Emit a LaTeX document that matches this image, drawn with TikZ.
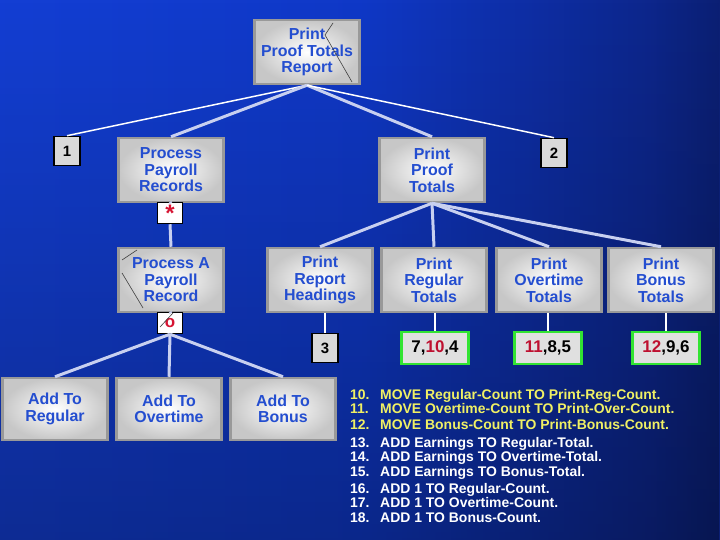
\documentclass[tikz,border=0pt]{standalone}
\usepackage{fontspec}
\setmainfont{Liberation Sans}
\usetikzlibrary{fadings}

\definecolor{boxblue}{RGB}{36,78,208}
\definecolor{linklav}{RGB}{200,208,240}
\definecolor{iterred}{RGB}{214,20,50}
\definecolor{countred}{RGB}{190,16,48}
\definecolor{countgreen}{RGB}{50,228,50}
\definecolor{codeyellow}{RGB}{240,240,100}

\pgfdeclarehorizontalshading{slidebg}{100bp}{rgb(0bp)=(0.09,0.27,0.88);
  rgb(50bp)=(0.06,0.22,0.78); rgb(70bp)=(0.05,0.15,0.55);
  rgb(88bp)=(0.02,0.05,0.2); rgb(100bp)=(0,0,0)}

\tikzstyle{module} = [draw=black!40, line width=2.5pt, inner color=white,
    outer color=black!22, rectangle, minimum height=64bp, minimum width=105bp,
    align=center, text=boxblue, inner sep=1pt,
    font=\bfseries\fontsize{16}{16.5}\selectfont]
\tikzstyle{tag} = [draw=black, line width=1.6pt, fill=black!15, inner sep=0pt,
    minimum width=26bp, minimum height=29bp,
    font=\bfseries\fontsize{15}{16}\selectfont]
\tikzstyle{iterbox} = [draw=black, line width=1.5pt, fill=white, inner sep=0pt,
    minimum width=25bp, minimum height=21bp, text=iterred,
    font=\bfseries\fontsize{17}{17}\selectfont]
\tikzstyle{countbox} = [draw=countgreen, line width=2.5pt, fill=black!12,
    inner sep=0pt, minimum width=67bp, minimum height=32bp,
    font=\bfseries\fontsize{17}{18}\selectfont]
\tikzstyle{thicklink} = [linklav, line width=3pt]
\tikzstyle{thinlink} = [white, line width=1.5pt]
\tikzstyle{scribble} = [black!75, line width=0.6pt]
\tikzstyle{codeline} = [anchor=base west, inner sep=0pt,
    font=\bfseries\fontsize{14}{14}\selectfont]

\newcommand{\hot}[1]{\textcolor{countred}{#1}}

\begin{document}
\begin{tikzpicture}[x=1bp, y=-1bp]
\shade[shading=slidebg] (0,0) rectangle (720,540);
\fill[black, opacity=0.3, path fading=north] (0,0) rectangle (720,540);
\useasboundingbox (0,0) rectangle (720,540);

% top levels
\node[module] (report) at (307,52) {Print\\Proof Totals\\Report};
\node[tag] (one) at (67,151) {1};
\node[module] (ppr) at (171,170) {Process\\Payroll\\Records};
\node[module] (ppt) at (432,170) {Print\\Proof\\Totals};
\node[tag] (two) at (554,153) {2};
\node[iterbox] (star) at (170,213) {\fontsize{24}{24}\selectfont\raisebox{-9bp}{*}};

% second level
\node[module] (papr) at (171,280) {Process A\\Payroll\\Record};
\node[module] (prh) at (320,280) {Print\\Report\\Headings};
\node[module] (prt) at (434,280) {Print\\Regular\\Totals};
\node[module] (pot) at (549,280) {Print\\Overtime\\Totals};
\node[module] (pbt) at (661,280) {Print\\Bonus\\Totals};
\node[iterbox] (sel) at (170,323) {o};
\node[tag] (three) at (325,348) {3};
\node[countbox] (regcnt) at (435,348) {7,\hot{10},4};
\node[countbox] (overcnt) at (548,348) {\hot{11},8,5};
\node[countbox] (bonuscnt) at (666,348) {\hot{12},9,6};

% bottom
\node[module, minimum height=62bp] (addreg) at (55,409) {Add To\\Regular};
\node[module, minimum height=62bp] (addover) at (169,409) {Add To\\Overtime};
\node[module, minimum height=62bp] (addbonus) at (283,409) {Add To\\Bonus};

\draw[thinlink] (report.south) -- (one.north);
\draw[thicklink] (report.south) -- (ppr.north);
\draw[thicklink] (report.south) -- (ppt.north);
\draw[thinlink] (report.south) -- (two.north);
\draw[thicklink] (ppr.south) -- (star.north);
\draw[thicklink] (star.south) -- (papr.north);
\draw[thicklink] (ppt.south) -- (prh.north);
\draw[thicklink] (ppt.south) -- (prt.north);
\draw[thicklink] (ppt.south) -- (pot.north);
\draw[thicklink] (ppt.south) -- (pbt.north);
\draw[thicklink] (papr.south) -- (sel.north);
\draw[thicklink] (sel.south) -- (addreg.north);
\draw[thicklink] (sel.south) -- (addover.north);
\draw[thicklink] (sel.south) -- (addbonus.north);
\draw[thinlink] (three.north) -- (three.north |- prh.south);
\draw[thinlink] (regcnt.north) -- (regcnt.north |- prt.south);
\draw[thinlink] (overcnt.north) -- (overcnt.north |- pot.south);
\draw[thinlink] (bonuscnt.north) -- (bonuscnt.north |- pbt.south);

% pen marks
\draw[scribble] (333,23) -- (325,35) -- (352,82);
\draw[scribble] (137,250) -- (122,260);
\draw[scribble] (122,273) -- (143,308);
\draw[scribble] (160,327) -- (173,313);

% code
\node[codeline, text=codeyellow] (c10) at (350,399) {\makebox[30bp][l]{10.}MOVE Regular-Count TO Print-Reg-Count.};
\node[codeline, text=codeyellow] (c11) at (350,413) {\makebox[30bp][l]{11.}MOVE Overtime-Count TO Print-Over-Count.};
\node[codeline, text=codeyellow] (c12) at (350,429) {\makebox[30bp][l]{12.}MOVE Bonus-Count TO Print-Bonus-Count.};
\node[codeline, text=white] (c13) at (350,447) {\makebox[30bp][l]{13.}ADD Earnings TO Regular-Total.};
\node[codeline, text=white] (c14) at (350,461) {\makebox[30bp][l]{14.}ADD Earnings TO Overtime-Total.};
\node[codeline, text=white] (c15) at (350,476) {\makebox[30bp][l]{15.}ADD Earnings TO Bonus-Total.};
\node[codeline, text=white] (c16) at (350,493) {\makebox[30bp][l]{16.}ADD 1 TO Regular-Count.};
\node[codeline, text=white] (c17) at (350,507) {\makebox[30bp][l]{17.}ADD 1 TO Overtime-Count.};
\node[codeline, text=white] (c18) at (350,522) {\makebox[30bp][l]{18.}ADD 1 TO Bonus-Count.};
\end{tikzpicture}
\end{document}
